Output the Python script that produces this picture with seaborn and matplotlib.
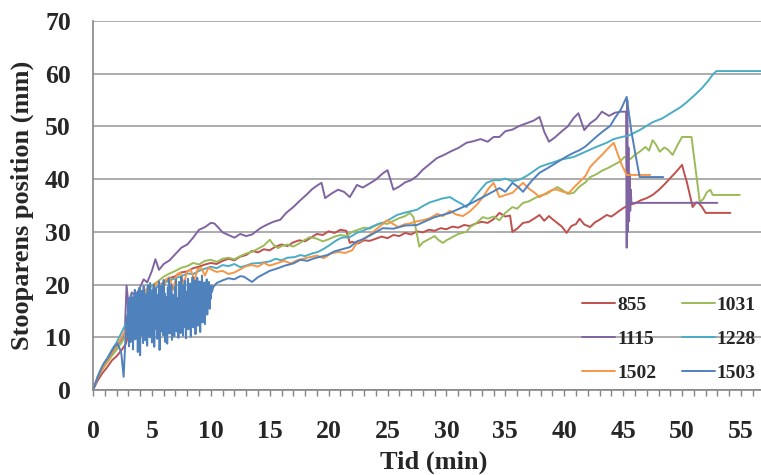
import matplotlib
matplotlib.use("Agg")
import matplotlib.pyplot as plt
from matplotlib.ticker import MultipleLocator
import pandas as pd
import seaborn as sns

# Stoop position (mm) against time (min) for six test runs
t_855 = [0, 0.4, 0.8, 1.2, 1.6, 2.0, 2.4, 2.8, 3.2, 3.6, 4.0, 4.5, 5.0, 5.5, 6.0, 6.5, 7.0, 7.5, 8.0, 8.5,
         9.0, 9.5, 10.0, 10.5, 11.0, 11.5, 12.0, 12.5, 13.0, 13.5, 14.0, 14.5, 15.0, 15.5, 16.0, 16.5, 17.0,
         17.5, 18.0, 18.5, 19.0, 19.5, 20.0, 20.5, 21.0, 21.5, 21.8, 22.0, 22.5, 23.0, 23.5, 24.0, 24.5, 25.0,
         25.5, 26.0, 26.5, 27.0, 27.5, 28.0, 28.5, 29.0, 29.5, 30.0, 30.5, 31.0, 31.5, 32.0, 32.5, 33.0, 33.5,
         34.0, 34.5, 35.0, 35.4, 35.6, 36.0, 36.5, 37.0, 37.5, 37.9, 38.3, 38.7, 39.0, 39.4, 39.8, 40.2, 40.6,
         41.0, 41.3, 41.7, 42.2, 42.6, 43.0, 43.6, 44.0, 44.5, 45.0, 45.5, 46.0, 46.5, 47.0, 47.5, 48.0, 48.5,
         49.0, 49.5, 50.0, 50.2, 50.4, 50.9, 51.2, 51.4, 51.7, 52.0, 54.1]
y_855 = [0, 1.8, 3.2, 4.3, 5.6, 6.4, 7.5, 8.8, 12.5, 14.8, 16.2, 17.8, 18.9, 19.6, 20.4, 21.2, 21.6, 22.3, 22.5, 23.1,
         23.4, 23.8, 24.1, 23.9, 24.5, 24.9, 24.6, 25.3, 25.6, 26.4, 26.1, 26.7, 26.5, 27.2, 27.6, 27.3, 28.0,
         28.4, 28.2, 28.9, 29.6, 29.4, 30.1, 29.8, 30.4, 30.2, 27.9, 28.1, 27.8, 28.4, 28.3, 28.7, 29.1, 28.8,
         29.4, 29.2, 29.8, 29.5, 30.1, 29.9, 30.4, 30.2, 30.7, 30.5, 31.0, 30.8, 31.3, 31.1, 31.6, 31.9, 31.7,
         32.4, 33.6, 32.9, 33.1, 30.0, 30.6, 31.7, 31.9, 32.6, 33.2, 32.1, 33.0, 32.4, 31.7, 31.0, 29.8, 31.1,
         31.5, 32.5, 31.4, 30.9, 31.8, 32.3, 33.2, 32.9, 33.7, 34.5, 35.1, 35.4, 36.0, 36.4, 37.0, 37.9, 39.0,
         40.2, 41.4, 42.7, 41.0, 39.5, 34.7, 35.6, 35.5, 34.7, 33.6, 33.6]

t_1031 = [0, 0.4, 0.8, 1.2, 1.6, 2.0, 2.4, 2.8, 3.2, 3.6, 4.0, 4.5, 5.0, 5.5, 6.0, 6.5, 7.0, 7.5, 8.0, 8.5,
          9.0, 9.5, 10.0, 10.5, 11.0, 11.5, 12.0, 12.5, 13.0, 13.5, 14.0, 14.5, 15.0, 15.3, 15.7, 16.0, 16.5,
          17.0, 17.5, 18.0, 18.4, 19.0, 19.5, 20.0, 20.5, 21.0, 21.5, 22.0, 22.5, 23.0, 23.5, 24.0, 24.5, 25.0,
          25.5, 26.0, 26.5, 26.9, 27.2, 27.5, 27.7, 28.0, 28.5, 29.0, 29.3, 29.7, 30.0, 30.5, 31.0, 31.7, 32.0,
          32.5, 33.1, 33.5, 34.0, 34.5, 35.0, 35.6, 36.0, 36.5, 37.0, 37.5, 38.0, 38.5, 39.0, 39.4, 39.8, 40.3,
          40.8, 41.3, 41.8, 42.2, 42.7, 43.2, 43.7, 44.2, 44.7, 45.1, 45.6, 46.0, 46.4, 46.9, 47.2, 47.5, 47.8,
          48.1, 48.5, 48.8, 49.2, 49.6, 50.0, 50.8, 51.5, 51.8, 52.1, 52.4, 52.6, 54.9]
y_1031 = [0, 2.3, 3.9, 5.2, 6.5, 7.6, 8.9, 10.4, 14.0, 15.9, 17.4, 18.6, 19.8, 20.6, 21.5, 22.1, 22.6, 23.2, 23.5, 24.1,
          23.8, 24.5, 24.7, 24.3, 24.9, 25.1, 24.8, 25.4, 25.9, 26.2, 26.8, 27.4, 28.5, 27.6, 26.9, 27.3, 27.6,
          27.2, 27.8, 28.5, 29.0, 28.7, 28.2, 28.6, 29.1, 29.4, 29.2, 30.0, 30.4, 30.8, 30.6, 31.2, 31.7, 31.5,
          32.1, 32.6, 33.0, 33.6, 32.8, 29.5, 27.2, 28.0, 28.6, 29.2, 28.5, 27.9, 28.4, 29.0, 29.6, 30.0, 30.9,
          31.6, 32.8, 32.5, 32.9, 32.2, 33.6, 34.7, 34.4, 35.5, 35.8, 36.4, 36.9, 37.2, 37.9, 38.5, 38.0, 37.2,
          37.4, 38.6, 39.4, 40.4, 40.9, 41.6, 42.1, 42.7, 43.3, 44.2, 43.8, 44.6, 45.2, 46.1, 45.4, 47.4, 46.5,
          45.2, 46.0, 45.6, 44.6, 46.4, 48.0, 48.0, 35.7, 36.2, 37.5, 38.0, 37.0, 37.0]

t_1115 = [0, 0.4, 0.8, 1.2, 1.6, 2.0, 2.4, 2.7, 2.85, 3.0, 3.3, 3.6, 4.0, 4.3, 4.6, 5.0, 5.3, 5.6, 6.0, 6.5,
          7.0, 7.5, 8.0, 8.5, 9.0, 9.5, 10.0, 10.3, 10.6, 11.0, 11.5, 12.0, 12.5, 13.0, 13.5, 14.2, 14.7, 15.3,
          15.9, 16.4, 17.0, 17.6, 18.1, 18.6, 19.1, 19.4, 19.7, 20.2, 20.8, 21.3, 21.8, 22.4, 22.9, 23.5, 24.0,
          24.6, 25.0, 25.5, 26.0, 26.5, 27.0, 27.5, 28.0, 28.6, 29.2, 29.8, 30.4, 31.0, 31.7, 32.3, 32.9, 33.5,
          34.0, 34.5, 35.0, 35.6, 36.2, 36.8, 37.4, 37.9, 38.3, 38.7, 39.2, 39.8, 40.3, 40.8, 41.2, 41.7, 42.2,
          42.7, 43.2, 43.8, 44.3, 44.8, 45.25, 45.3, 45.35, 45.4, 45.45, 45.5, 45.55, 45.6, 45.65, 45.7, 53.0]
y_1115 = [0, 2.5, 4.2, 5.6, 7.0, 8.3, 9.6, 11.0, 19.8, 16.5, 18.5, 17.8, 19.5, 21.0, 20.4, 22.6, 24.8, 22.8, 23.9, 24.6,
          25.8, 27.0, 27.6, 28.9, 30.4, 30.9, 31.7, 31.6, 30.9, 29.9, 29.4, 28.9, 29.6, 29.2, 29.5, 30.7, 31.3, 31.9,
          32.3, 33.6, 34.7, 36.0, 37.0, 38.1, 38.9, 39.3, 36.4, 37.2, 38.0, 37.6, 36.6, 38.9, 38.4, 39.2, 39.9,
          41.1, 41.7, 38.0, 38.6, 39.4, 39.8, 40.6, 41.8, 42.9, 44.0, 44.6, 45.3, 45.9, 46.9, 47.2, 47.6, 47.1,
          48.0, 48.0, 49.1, 49.4, 50.1, 50.6, 51.1, 51.8, 49.0, 47.1, 47.9, 49.1, 50.0, 51.6, 52.5, 49.3, 50.6,
          51.4, 52.8, 52.0, 52.6, 52.8, 52.8, 27.0, 55.0, 30.0, 46.0, 32.0, 41.0, 34.0, 38.0, 35.5, 35.5]

t_1228 = [0, 0.4, 0.8, 1.2, 1.6, 2.0, 2.4, 2.8, 3.2, 3.6, 4.0, 4.5, 5.0, 5.5, 6.0, 6.5, 7.0, 7.5, 8.0, 8.5,
          9.0, 9.5, 10.0, 10.5, 11.0, 11.5, 12.0, 12.5, 13.0, 13.5, 14.2, 15.0, 15.5, 16.0, 16.5, 17.1, 17.6,
          18.0, 18.6, 19.1, 19.6, 20.1, 20.6, 21.1, 21.8, 22.4, 23.0, 23.6, 24.2, 24.6, 25.2, 25.8, 26.4, 27.5,
          28.0, 28.6, 29.2, 29.6, 30.3, 30.8, 31.3, 31.7, 32.3, 32.9, 33.4, 34.0, 34.5, 35.0, 35.6, 36.2, 36.8,
          37.4, 37.9, 38.5, 39.1, 39.7, 40.8, 41.4, 42.0, 42.6, 43.6, 44.2, 44.7, 45.5, 46.4, 47.5, 48.3, 49.1,
          49.9, 50.4, 51.0, 51.7, 52.2, 52.6, 52.9, 56.7]
y_1228 = [0, 2.6, 4.5, 6.0, 7.6, 9.0, 10.8, 12.6, 15.4, 16.6, 17.3, 18.2, 18.9, 19.6, 20.2, 20.8, 21.2, 21.6, 22.1, 22.0,
          22.6, 23.0, 23.4, 23.1, 23.7, 23.5, 23.9, 23.3, 23.6, 24.0, 24.1, 24.4, 24.9, 24.6, 25.1, 25.2, 25.6,
          25.4, 25.9, 26.2, 26.8, 27.5, 28.3, 28.9, 29.0, 29.8, 30.3, 30.9, 31.5, 31.7, 32.4, 33.2, 33.6, 34.2,
          34.9, 35.6, 36.0, 36.3, 36.6, 35.9, 35.3, 34.7, 36.4, 38.0, 39.3, 39.8, 39.8, 40.1, 39.6, 39.9, 40.6,
          41.5, 42.3, 42.8, 43.2, 43.7, 44.2, 44.8, 45.4, 46.0, 46.9, 47.6, 47.9, 48.3, 49.3, 50.8, 51.5, 52.6,
          53.7, 54.6, 55.8, 57.3, 58.6, 59.8, 60.5, 60.5]

t_1502 = [0, 0.4, 0.8, 1.2, 1.6, 2.0, 2.4, 2.8, 3.2, 3.5, 3.8, 4.1, 4.4, 4.7, 5.0, 5.3, 5.6, 5.9, 6.2, 6.5,
          6.8, 7.1, 7.4, 7.7, 8.0, 8.3, 8.6, 8.9, 9.2, 9.5, 9.8, 10.1, 10.5, 11.0, 11.5, 12.0, 12.5, 13.0, 13.5,
          14.0, 14.5, 15.0, 15.7, 16.2, 16.8, 17.3, 18.4, 19.0, 19.6, 20.2, 20.8, 21.4, 22.0, 22.4, 22.9, 23.4,
          24.0, 24.6, 25.0, 25.4, 25.9, 26.4, 26.9, 27.5, 28.0, 28.6, 29.2, 29.7, 30.3, 30.8, 31.4, 32.0, 32.6,
          33.1, 33.6, 34.0, 34.5, 35.0, 35.6, 36.1, 36.5, 37.0, 37.5, 37.9, 38.5, 39.0, 39.4, 39.9, 40.4, 40.9,
          41.3, 41.8, 42.2, 42.7, 43.2, 43.7, 44.2, 44.5, 44.9, 45.3, 47.3]
y_1502 = [0, 2.4, 4.1, 5.5, 7.0, 8.4, 9.9, 11.6, 14.2, 16.5, 18.0, 15.5, 18.8, 19.5, 17.2, 20.1, 20.6, 18.4, 21.0, 21.4,
          19.0, 21.9, 22.3, 20.2, 22.5, 22.8, 20.8, 23.0, 23.1, 21.7, 23.2, 22.8, 22.4, 22.6, 22.0, 22.3, 22.9,
          23.5, 23.7, 23.4, 24.1, 23.6, 24.1, 24.5, 24.0, 24.6, 25.2, 25.5, 25.0, 25.9, 26.2, 26.0, 26.5, 27.9,
          28.5, 29.3, 30.4, 31.5, 32.2, 31.6, 30.9, 31.4, 31.6, 32.0, 32.2, 32.6, 33.4, 33.0, 34.0, 33.3, 33.0,
          33.9, 35.2, 36.6, 38.3, 39.3, 36.6, 37.0, 37.4, 38.5, 39.3, 38.2, 37.4, 36.6, 37.4, 38.0, 38.0, 37.6,
          37.4, 38.6, 39.5, 40.6, 42.3, 43.5, 44.6, 45.8, 46.9, 45.0, 42.6, 40.8, 40.8]

t_1503 = [0, 0.3, 0.6, 0.9, 1.2, 1.5, 1.8, 2.1, 2.4, 2.6, 2.75,
          2.90, 2.95, 3.00, 3.05, 3.10, 3.15, 3.20, 3.25, 3.30, 3.35, 3.40, 3.45, 3.50, 3.55, 3.60, 3.65,
          3.70, 3.75, 3.80, 3.85, 3.90, 3.95, 4.00, 4.05, 4.10, 4.15, 4.20, 4.25, 4.30, 4.35, 4.40, 4.45,
          4.50, 4.55, 4.60, 4.65, 4.70, 4.75, 4.80, 4.85, 4.90, 4.95, 5.00, 5.05, 5.10, 5.15, 5.20, 5.25,
          5.30, 5.35, 5.40, 5.45, 5.50, 5.55, 5.60, 5.65, 5.70, 5.75, 5.80, 5.85, 5.90, 5.95, 6.00, 6.05,
          6.10, 6.15, 6.20, 6.25, 6.30, 6.35, 6.40, 6.45, 6.50, 6.55, 6.60, 6.65, 6.70, 6.75, 6.80, 6.85,
          6.90, 6.95, 7.00, 7.05, 7.10, 7.15, 7.20, 7.25, 7.30, 7.35, 7.40, 7.45, 7.50, 7.55, 7.60, 7.65,
          7.70, 7.75, 7.80, 7.85, 7.90, 7.95, 8.00, 8.05, 8.10, 8.15, 8.20, 8.25, 8.30, 8.35, 8.40, 8.45,
          8.50, 8.55, 8.60, 8.65, 8.70, 8.75, 8.80, 8.85, 8.90, 8.95, 9.00, 9.05, 9.10, 9.15, 9.20, 9.25,
          9.30, 9.35, 9.40, 9.45, 9.50, 9.55, 9.60, 9.65, 9.70, 9.75, 9.80, 9.85, 9.90, 9.95, 10.00, 10.05,
          10.10,
          10.2, 10.5, 11.0, 11.5, 12.0, 12.5, 12.8, 13.5, 14.0, 14.5, 15.0, 15.7, 16.3, 17.0, 17.6, 18.2, 18.8,
          19.9, 20.5, 21.0, 21.8, 22.4, 22.8, 23.5, 24.6, 25.5, 26.5, 27.5, 28.2, 29.0, 30.3, 31.1, 32.0, 33.1,
          34.5, 35.0, 35.6, 36.1, 36.5, 37.2, 37.9, 38.6, 39.4, 40.2, 40.8, 41.3, 41.8, 42.2, 42.7, 43.3, 43.9,
          44.3, 44.8, 45.3, 45.7, 46.1, 46.4, 48.4]
y_1503 = [0, 1.8, 3.6, 5.0, 5.9, 7.0, 8.2, 8.8, 7.0, 2.5, 9.5,
          14.2, 10.1, 16.8, 8.3, 17.4, 12.0, 9.1, 18.0, 11.4, 16.2, 7.7, 17.6, 13.3, 19.0, 9.6, 15.8,
          11.9, 18.5, 7.2, 16.9, 12.7, 19.4, 6.6, 17.2, 10.5, 18.8, 13.8, 8.9, 19.7, 12.1, 17.0, 9.4,
          18.2, 14.6, 8.4, 19.9, 11.3, 17.5, 10.0, 20.3, 13.5, 16.4, 9.0, 18.6, 12.4, 20.0, 8.2, 17.3,
          11.6, 19.3, 14.0, 9.7, 18.0, 12.8, 20.6, 7.6, 16.1, 11.0, 19.8, 13.9, 17.0, 10.4, 20.9, 12.3,
          18.3, 9.1, 17.7, 14.4, 8.8, 19.5, 12.9, 21.2, 10.7, 16.8, 13.2, 20.0, 9.5, 18.1, 11.8, 15.9,
          10.2, 19.6, 13.6, 21.0, 11.1, 17.4, 14.8, 9.9, 20.5, 12.6, 18.7, 10.8, 21.5, 14.2, 17.1, 10.3,
          19.9, 12.0, 20.7, 15.1, 9.8, 18.6, 13.0, 21.1, 11.5, 17.9, 14.7, 20.2, 10.1, 18.4, 13.3, 21.4,
          11.9, 16.7, 14.9, 20.8, 10.6, 19.1, 13.7, 21.3, 12.2, 17.8, 15.2, 20.6, 11.0, 18.9, 14.1, 21.7,
          12.8, 19.2, 15.6, 20.4, 12.5, 18.2, 15.0, 21.0, 14.3, 19.6, 16.1, 20.5, 15.4, 19.0, 17.3, 19.8,
          18.6,
          19.5, 20.3, 20.8, 21.2, 21.0, 21.6, 21.5, 20.5, 21.4, 22.0, 22.6, 23.1, 23.6, 24.0, 24.7, 24.5, 25.0,
          25.6, 26.3, 26.6, 27.1, 28.2, 28.5, 29.3, 30.7, 30.6, 31.2, 31.3, 32.0, 32.8, 33.6, 34.4, 35.3, 36.6,
          38.3, 37.6, 39.3, 38.5, 37.6, 39.6, 41.2, 42.1, 43.2, 44.3, 45.0, 45.5, 46.2, 47.0, 48.0, 49.1, 50.1,
          51.6, 53.2, 55.6, 49.0, 44.0, 40.4, 40.4]

series_names = ["855", "1031", "1115", "1228", "1502", "1503"]
series_colors = ["#C0504D", "#9BBB59", "#8064A2", "#4BACC6", "#F79646", "#4F81BD"]
x_tick_labels = [0, 5, 10, 15, 20, 25, 30, 35, 40, 45, 50, 55]
y_tick_labels = [0, 10, 20, 30, 40, 50, 60, 70]

times = [t_855, t_1031, t_1115, t_1228, t_1502, t_1503]
values = [y_855, y_1031, y_1115, y_1228, y_1502, y_1503]

frames = []
for name, tt, yy in zip(series_names, times, values):
    frames.append(pd.DataFrame({"Tid": tt, "Position": yy, "Serie": name}))
df = pd.concat(frames, ignore_index=True)

sns.set_style("white")
plt.rcParams["font.family"] = ["Liberation Serif", "DejaVu Serif"]
plt.rcParams["font.weight"] = "bold"

fig = plt.figure(figsize=(7.61, 4.75), dpi=100)
ax = fig.add_axes([93 / 761, 1 - 390 / 475, 668 / 761, 369 / 475])

sns.lineplot(data=df, x="Tid", y="Position", hue="Serie", hue_order=series_names,
             palette=dict(zip(series_names, series_colors)), estimator=None, sort=False,
             linewidth=1.4, ax=ax)

ax.set_xlim(0, 56.7)
ax.set_ylim(0, 70)
ax.set_xticks(x_tick_labels)
ax.set_yticks(y_tick_labels)
ax.xaxis.set_minor_locator(MultipleLocator(1))
ax.grid(axis="y", color="#A6A6A6", linewidth=1.3)
ax.grid(axis="x", visible=False)
ax.set_axisbelow(True)

for side in ("top", "right"):
    ax.spines[side].set_visible(False)
for side in ("left", "bottom"):
    ax.spines[side].set_color("#868686")
    ax.spines[side].set_linewidth(1.2)

ax.tick_params(axis="y", which="major", direction="out", length=7, width=1.1, color="#868686",
               pad=9, labelsize=18.5)
ax.tick_params(axis="x", which="both", direction="out", length=4.5, width=1.0, color="#868686",
               pad=17, labelsize=18.5, bottom=True)
ax.tick_params(axis="x", which="minor", labelbottom=False)

ax.set_xlabel("Tid (min)", fontsize=19, fontweight="bold")
ax.set_ylabel("Stooparens position (mm)", fontsize=19, fontweight="bold")
ax.xaxis.label.set_va("center")
ax.yaxis.label.set_va("center")
ax.xaxis.set_label_coords(0.51, -0.195)
ax.yaxis.set_label_coords(-0.106, 0.5)

leg = ax.get_legend()
handles = list(leg.legend_handles)
labels = [txt.get_text() for txt in leg.get_texts()]
leg.remove()
order = [0, 2, 4, 1, 3, 5]
ax.legend([handles[i] for i in order], [labels[i] for i in order], ncol=2, frameon=False,
          loc="center", bbox_to_anchor=(669 / 761, 1 - 339 / 475), bbox_transform=fig.transFigure,
          prop={"family": "Liberation Serif", "weight": "bold", "size": 14},
          handlelength=1.7, handletextpad=0.1, columnspacing=1.3, labelspacing=0.85, borderpad=0)

fig.savefig("out.png", dpi=100)
